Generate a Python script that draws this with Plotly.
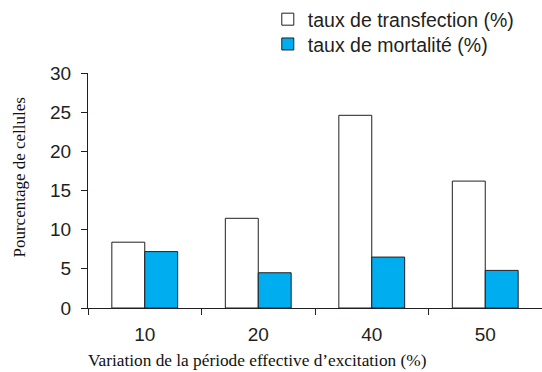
import plotly.graph_objects as go

categories = ["10", "20", "40", "50"]
transfection = [8.4, 11.45, 24.6, 16.2]
mortalite = [7.2, 4.5, 6.5, 4.8]
series_names = ["taux de transfection (%)", "taux de mortalité (%)"]
y_ticks = [0, 5, 10, 15, 20, 25, 30]

fig = go.Figure()
fig.add_trace(go.Bar(x=categories, y=transfection, name=series_names[0], legend="legend",
                     marker=dict(color="white", line=dict(color="#231f20", width=1))))
fig.add_trace(go.Bar(x=categories, y=mortalite, name=series_names[1], legend="legend2",
                     marker=dict(color="#00aeef", line=dict(color="#231f20", width=1))))

legend_style = dict(xanchor="left", yanchor="top", font=dict(size=19.5),
                    bgcolor="rgba(0,0,0,0)")
fig.update_layout(
    width=542, height=372,
    margin=dict(l=88, r=0, t=72, b=64),
    paper_bgcolor="white", plot_bgcolor="white",
    barmode="group", bargap=0.42, bargroupgap=0,
    font=dict(family="Liberation Sans, Arial, sans-serif", size=19, color="#231f20"),
    legend=dict(x=0.396, y=1.31, **legend_style),
    legend2=dict(x=0.396, y=1.20, **legend_style),
    showlegend=True,
)
fig.update_xaxes(type="category", showline=True, linecolor="#231f20", linewidth=1,
                 ticks="outside", ticklen=6, tickcolor="#231f20", tickson="boundaries",
                 showgrid=False, ticklabelstandoff=9, range=[-0.5, 3.5], automargin=False)
fig.update_yaxes(range=[0, 30], tickvals=y_ticks, showline=True, linecolor="#231f20",
                 linewidth=1, ticks="outside", ticklen=6, tickcolor="#231f20",
                 showgrid=False, zeroline=False, ticklabelstandoff=6, automargin=False)
serif = dict(family="Liberation Serif, Times New Roman, serif", color="#111111")
fig.add_annotation(text="Pourcentage de cellules",
                   xref="paper", yref="paper", x=-0.150, y=0.559, textangle=-90,
                   xanchor="center", yanchor="middle", showarrow=False,
                   font=dict(size=17, **serif))
fig.add_annotation(text="Variation de la période effective d’excitation (%)",
                   xref="paper", yref="paper", x=0.372, y=-0.222,
                   xanchor="center", yanchor="middle", showarrow=False,
                   font=dict(size=17.3, **serif))
fig.write_html("out.html", config={"displayModeBar": False},
               post_script="document.body.style.margin='0';document.body.style.overflow='hidden';")
